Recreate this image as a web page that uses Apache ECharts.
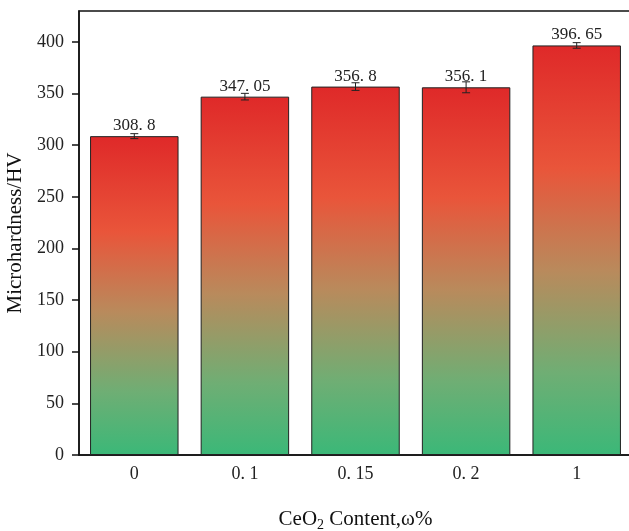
<!DOCTYPE html>
<html>
<head>
<meta charset="utf-8">
<script src="https://cdn.jsdelivr.net/npm/echarts@6/dist/echarts.min.js"></script>
<style>
  html, body { margin: 0; padding: 0; background: #fff; }
  #chart { width: 629px; height: 531px; }
</style>
</head>
<body>
<div id="chart"></div>
<script>
// CeO2 content categories and measured hardness
var categories = ['0', '0.1', '0.15', '0.2', '1'];
var hardness = [308.8, 347.05, 356.8, 356.1, 396.65];
var errors = [2.4, 3.2, 3.7, 5.3, 2.7];

var serif = '"Liberation Serif", "DejaVu Serif", serif';

// the picture renders the decimal point wide, like a CJK font
function fmt_num(v) {
    return String(v).replace('.', '. ');
}

var bar_gradient = new echarts.graphic.LinearGradient(0, 0, 0, 1, [
    {offset: 0, color: '#df2929'},
    {offset: 0.3, color: '#e9553a'},
    {offset: 0.55, color: '#b98a5c'},
    {offset: 0.8, color: '#6fae74'},
    {offset: 1, color: '#3bb878'}
]);

var chart = echarts.init(document.getElementById('chart'));

var option = {
    animation: false,
    grid: {
        left: 79,
        right: -3,
        top: 11,
        bottom: 76,
        outerBoundsMode: 'none',
        containLabel: false,
        show: true,
        borderColor: '#111',
        borderWidth: 1.5,
        backgroundColor: 'transparent'
    },
    xAxis: {
        type: 'category',
        data: categories,
        name: 'CeO{sub|2} Content,ω%',
        nameLocation: 'middle',
        nameGap: 51,
        nameTextStyle: {
            fontFamily: serif,
            fontSize: 21,
            color: '#111',
            rich: {
                sub: {fontFamily: serif, fontSize: 14, color: '#111', padding: [12, 0, 0, 0]}
            }
        },
        axisLine: {lineStyle: {color: '#111', width: 1.5}},
        axisTick: {alignWithLabel: true, length: 7, lineStyle: {color: '#111', width: 1.5}},
        axisLabel: {
            fontFamily: serif,
            fontSize: 18,
            color: '#222',
            margin: 10,
            formatter: fmt_num
        }
    },
    yAxis: {
        type: 'value',
        min: 0,
        max: 430,
        interval: 50,
        name: 'Microhardness/HV',
        nameLocation: 'middle',
        nameGap: 50,
        nameTextStyle: {fontFamily: serif, fontSize: 21, color: '#111'},
        axisLine: {show: true, lineStyle: {color: '#111', width: 1.5}},
        axisTick: {show: true, length: 7, lineStyle: {color: '#111', width: 1.5}},
        axisLabel: {
            fontFamily: serif,
            fontSize: 18,
            color: '#222',
            margin: 15,
            showMaxLabel: false
        },
        splitLine: {show: false}
    },
    series: [
        {
            type: 'bar',
            data: hardness,
            barWidth: '80%',
            itemStyle: {
                color: bar_gradient,
                borderColor: '#222',
                borderWidth: 1
            },
            label: {
                show: true,
                position: 'top',
                distance: 2,
                fontFamily: serif,
                fontSize: 17,
                color: '#222',
                formatter: function(p) { return fmt_num(p.value); }
            },
            z: 2
        },
        {
            type: 'custom',
            data: hardness.map(function(v, i) { return [i, v - errors[i], v + errors[i]]; }),
            renderItem: function(params, api) {
                var lo = api.coord([api.value(0), api.value(1)]);
                var hi = api.coord([api.value(0), api.value(2)]);
                var w = 4;
                var style = {stroke: '#222', lineWidth: 1};
                return {
                    type: 'group',
                    children: [
                        {type: 'line', shape: {x1: lo[0], y1: lo[1], x2: hi[0], y2: hi[1]}, style: style},
                        {type: 'line', shape: {x1: lo[0] - w, y1: lo[1], x2: lo[0] + w, y2: lo[1]}, style: style},
                        {type: 'line', shape: {x1: hi[0] - w, y1: hi[1], x2: hi[0] + w, y2: hi[1]}, style: style}
                    ]
                };
            },
            encode: {x: 0, y: [1, 2]},
            z: 3
        }
    ]
};

chart.setOption(option);
</script>
</body>
</html>
